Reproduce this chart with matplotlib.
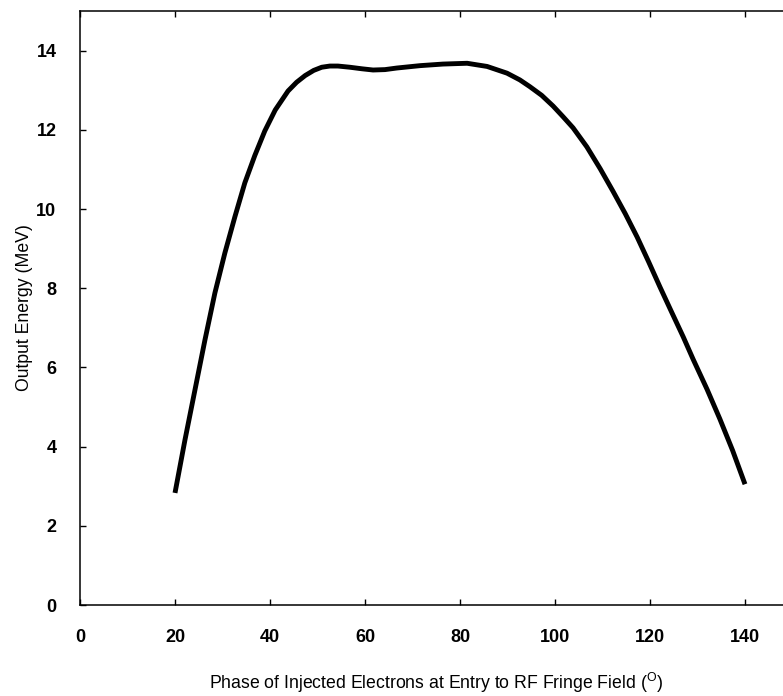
import numpy as np
import matplotlib.pyplot as plt

# values
phase = [20, 22.1, 24.2, 26.3, 28.4, 30.5, 32.6, 34.7, 36.8, 38.9, 41.1, 43.8,
         45.6, 47.4, 49.2, 50.9, 52.6, 54.3, 56.8, 59.4, 61.7, 64.2, 66.7,
         71.6, 76.4, 81.5, 85.7, 89.9, 92.6, 94.7, 97.2, 99.6, 101.7, 103.8,
         106.7, 109.5, 112.2, 114.8, 117.3, 119.7, 122.1, 124.5, 127, 129.1,
         132, 134.7, 137.4, 140]
energy = [2.83, 4.17, 5.43, 6.69, 7.88, 8.89, 9.80, 10.66, 11.35, 11.97, 12.5,
          12.98, 13.2, 13.37, 13.5, 13.58, 13.61, 13.61, 13.58, 13.54, 13.51,
          13.52, 13.56, 13.62, 13.66, 13.68, 13.6, 13.43, 13.26, 13.09, 12.87,
          12.6, 12.33, 12.05, 11.57, 11.02, 10.45, 9.88, 9.29, 8.67, 8.03, 7.41,
          6.77, 6.2, 5.45, 4.7, 3.9, 3.05]
xticks = [0, 20, 40, 60, 80, 100, 120, 140]
yticks = [0, 2, 4, 6, 8, 10, 12, 14]

plt.rcParams['font.family'] = 'Liberation Sans'
plt.rcParams['mathtext.fontset'] = 'custom'
plt.rcParams['mathtext.rm'] = 'Liberation Sans'

fig = plt.figure(figsize=(7.83, 6.96), dpi=100)
ax = fig.add_axes([80/783, 91/696, 712.5/783, 594/696])

ax.plot(phase, energy, color='black', linewidth=3.5,
        solid_capstyle='butt', solid_joinstyle='round')

ax.set_xlim(0, 150)
ax.set_ylim(0, 15)
ax.set_xticks(xticks)
ax.set_yticks(yticks)
ax.tick_params(direction='in', length=4, width=1, top=True, right=False,
               labelsize=13, pad=17)
for lab in ax.get_xticklabels() + ax.get_yticklabels():
    lab.set_fontweight('bold')
for sp in ax.spines.values():
    sp.set_linewidth(1.1)

ax.set_xlabel("Phase of Injected Electrons at Entry to RF Fringe Field ($^{\\rm O}$)",
              fontsize=12.7, labelpad=18)
ax.set_ylabel("Output Energy (MeV)", fontsize=12.7, labelpad=2)

fig.savefig("out.png", dpi=100)
